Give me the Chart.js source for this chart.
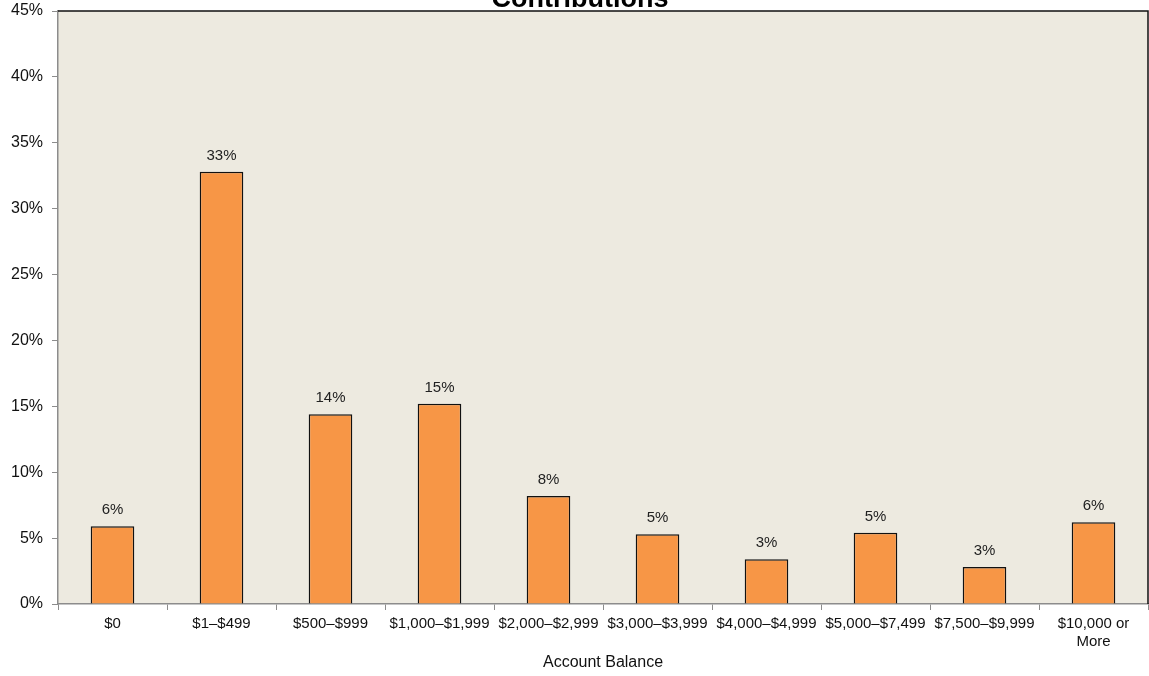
<!DOCTYPE html>
<html>
<head>
<meta charset="utf-8">
<script src="https://cdn.jsdelivr.net/npm/chart.js@4"></script>
<style>
  html, body { margin: 0; padding: 0; background: #fff; }
  #wrap { width: 1149px; height: 676px; position: relative; }
</style>
</head>
<body>
<div id="wrap"><canvas id="chart"></canvas></div>
<script>
// Chart data
const categories = [
  "$0", "$1–$499", "$500–$999", "$1,000–$1,999", "$2,000–$2,999",
  "$3,000–$3,999", "$4,000–$4,999", "$5,000–$7,499", "$7,500–$9,999",
  ["$10,000 or", "More"],
];
const shares = [5.9, 32.8, 14.4, 15.2, 8.2, 5.3, 3.4, 5.4, 2.8, 6.2];
const titleText = "Contributions";
const xAxisTitle = "Account Balance";

const FONT = "'Liberation Sans', Arial, sans-serif";

// Beige plot background plus black top/right frame
const plotFrame = {
  id: "plotFrame",
  beforeDraw(chart) {
    const { ctx, chartArea: a } = chart;
    ctx.save();
    ctx.fillStyle = "#EDEAE0";
    ctx.fillRect(a.left, a.top, a.right - a.left, a.bottom - a.top);
    ctx.restore();
  },
  afterDraw(chart) {
    const { ctx, chartArea: a } = chart;
    ctx.save();
    ctx.strokeStyle = "#111";
    ctx.lineWidth = 1.5;
    ctx.beginPath();
    ctx.moveTo(a.left, a.top);
    ctx.lineTo(a.right, a.top);
    ctx.lineTo(a.right, a.bottom);
    ctx.stroke();
    // title, clipped at the top like the original
    ctx.fillStyle = "#000";
    ctx.font = "bold 27px " + FONT;
    ctx.textAlign = "center";
    ctx.textBaseline = "alphabetic";
    ctx.fillText(titleText, 580, 7);
    ctx.restore();
  },
};

// Rounded percentage above each bar
const barLabels = {
  id: "barLabels",
  afterDatasetsDraw(chart) {
    const { ctx } = chart;
    const meta = chart.getDatasetMeta(0);
    ctx.save();
    ctx.fillStyle = "#222";
    ctx.font = "15px " + FONT;
    ctx.textAlign = "center";
    ctx.textBaseline = "middle";
    meta.data.forEach((bar, i) => {
      ctx.fillText(Math.round(shares[i]) + "%", bar.x, bar.y - 16);
    });
    ctx.restore();
  },
};

new Chart(document.getElementById("chart"), {
  type: "bar",
  data: {
    labels: categories,
    datasets: [
      {
        data: shares,
        backgroundColor: "#F79646",
        borderColor: "#111",
        borderWidth: 1.5,
        barPercentage: 0.4,
        categoryPercentage: 1,
      },
    ],
  },
  options: {
    responsive: true,
    maintainAspectRatio: false,
    animation: false,
    layout: { padding: { top: 11, right: 1, left: 0, bottom: 0 } },
    plugins: {
      legend: { display: false },
      tooltip: { enabled: false },
    },
    scales: {
      x: {
        grid: {
          offset: true,
          drawOnChartArea: false,
          color: "#8c8c8c",
          tickLength: 6,
        },
        border: { color: "#8c8c8c", width: 1.5 },
        ticks: {
          color: "#111",
          font: { family: FONT, size: 15 },
          maxRotation: 0,
          autoSkip: false,
          padding: 5,
        },
        title: {
          display: true,
          text: xAxisTitle,
          color: "#111",
          font: { family: FONT, size: 16 },
          padding: { top: 5 },
        },
        afterFit(scale) {
          scale.height = 72;
          scale.paddingLeft = 0;
          scale.paddingRight = 0;
        },
      },
      y: {
        min: 0,
        max: 45,
        grid: {
          drawOnChartArea: false,
          color: "#8c8c8c",
          tickLength: 6,
        },
        border: { color: "#8c8c8c", width: 1.5 },
        ticks: {
          stepSize: 5,
          color: "#111",
          font: { family: FONT, size: 16 },
          padding: 9,
          callback: (v) => v + "%",
        },
        afterFit(scale) {
          scale.width = 58;
          scale.paddingTop = 0;
          scale.paddingBottom = 0;
        },
      },
    },
  },
  plugins: [plotFrame, barLabels],
});
</script>
</body>
</html>
